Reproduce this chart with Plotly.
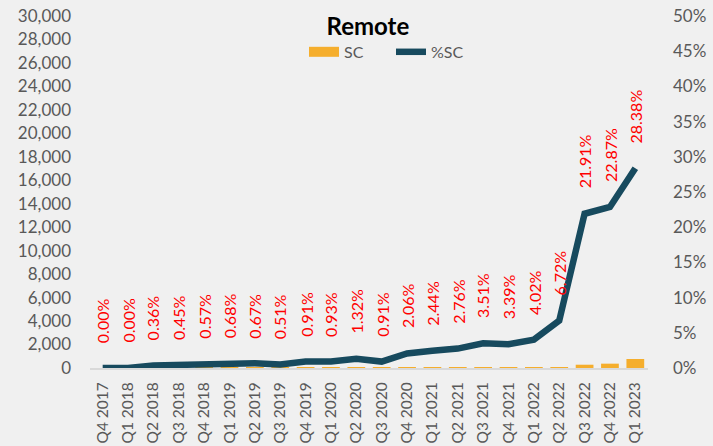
import plotly.graph_objects as go

quarters = ["Q4 2017", "Q1 2018", "Q2 2018", "Q3 2018", "Q4 2018", "Q1 2019", "Q2 2019",
            "Q3 2019", "Q4 2019", "Q1 2020", "Q2 2020", "Q3 2020", "Q4 2020", "Q1 2021",
            "Q2 2021", "Q3 2021", "Q4 2021", "Q1 2022", "Q2 2022", "Q3 2022", "Q4 2022", "Q1 2023"]
sc_values = [0, 0, 1, 1, 1, 1, 1, 1, 2, 2, 3, 2, 4, 5, 6, 7, 7, 8, 70, 280, 370, 770]
pct_sc = [0.00, 0.00, 0.36, 0.45, 0.57, 0.68, 0.67, 0.51, 0.91, 0.93, 1.32, 0.91, 2.06, 2.44,
          2.76, 3.51, 3.39, 4.02, 6.72, 21.91, 22.87, 28.38]
left_ticks = list(range(0, 30001, 2000))
right_ticks = [0, 5, 10, 15, 20, 25, 30, 35, 40, 45, 50]

FONT = "Lato, Carlito, Calibri, sans-serif"
GRAY = "#595959"
ORANGE = "#F5AE2D"
TEAL = "#174A5E"
BG = "#F0F0F0"

fig = go.Figure()
fig.add_trace(go.Bar(x=quarters, y=sc_values, name="SC", marker_color=ORANGE,
                     marker_line_width=0, showlegend=False))
# legend proxy so the SC key is drawn as a wide rectangle
fig.add_trace(go.Scatter(x=[None], y=[None], name="SC", mode="lines",
                         line=dict(color=ORANGE, width=11)))
fig.add_trace(go.Scatter(x=quarters, y=pct_sc, name="%SC", yaxis="y2", mode="lines",
                         line=dict(color=TEAL, width=6.5)))

for q, p in zip(quarters, pct_sc):
    fig.add_annotation(x=q, y=p, yref="y2", text=f"{p:.2f}%", textangle=-90,
                       showarrow=False, yanchor="bottom", yshift=23,
                       font=dict(family=FONT, size=16, color="#FF0000"))

fig.update_layout(
    width=713, height=446,
    paper_bgcolor=BG, plot_bgcolor=BG,
    margin=dict(l=90, r=65, t=16, b=78, autoexpand=False),
    font=dict(family=FONT, size=16, color=GRAY),
    title=dict(text="<b>Remote</b>", x=0.516, xanchor="center", y=0.94, yanchor="middle",
               font=dict(family=FONT, size=24, color="#000000")),
    showlegend=True,
    legend=dict(orientation="h", x=0.3835, xanchor="left", y=0.898, yanchor="middle",
                font=dict(family=FONT, size=16, color=GRAY), bgcolor="rgba(0,0,0,0)",
                itemwidth=30, tracegroupgap=0, entrywidth=42),
    bargap=0.3,
    xaxis=dict(type="category", tickangle=-90, showgrid=False, showline=True,
               linecolor="#D9D9D9", linewidth=2, ticks="", ticklabelstandoff=6,
               automargin=False, tickfont=dict(family=FONT, size=15.5, color=GRAY)),
    yaxis=dict(range=[0, 30000], tickvals=left_ticks, tickformat=",", showgrid=False,
               zeroline=False, showline=False, ticks="", ticklabelstandoff=18,
               automargin=False, tickfont=dict(family=FONT, size=17, color=GRAY)),
    yaxis2=dict(range=[0, 50], tickvals=right_ticks, ticktext=[f"{v}%" for v in right_ticks],
                overlaying="y", side="right", showgrid=False, zeroline=False, showline=False,
                ticks="", ticklabelstandoff=24, automargin=False,
                tickfont=dict(family=FONT, size=17, color=GRAY)),
)

fig.write_html("out.html", config={"displayModeBar": False},
               post_script="document.body.style.margin='0';document.body.style.background='#F0F0F0';document.body.style.overflow='hidden';")
